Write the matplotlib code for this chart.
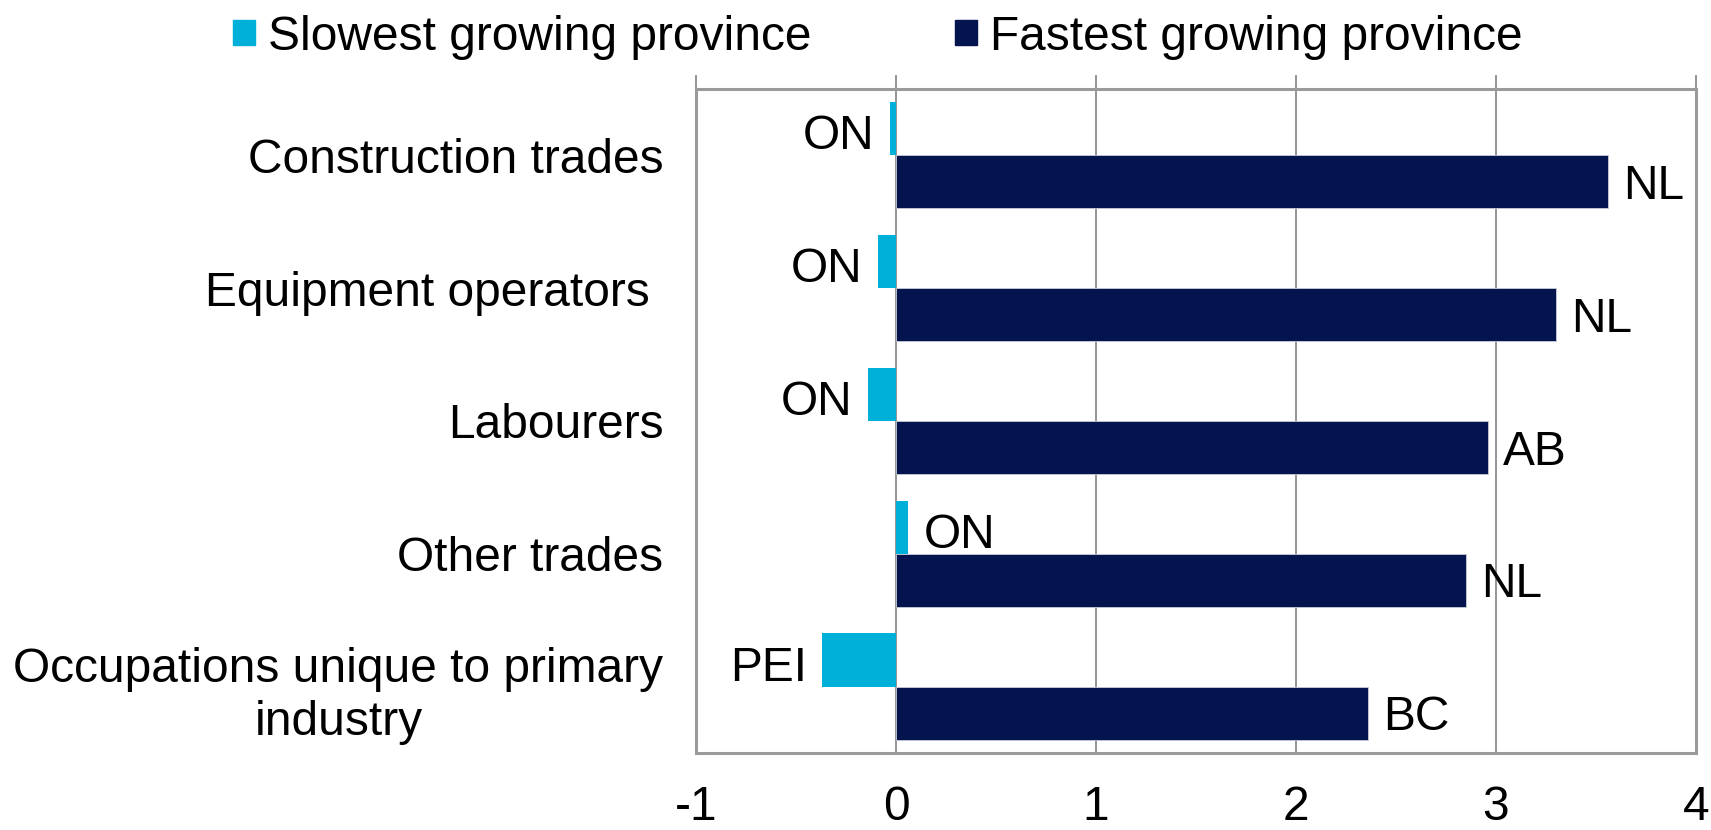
import numpy as np
import matplotlib.pyplot as plt
from matplotlib.patches import Patch

plt.rcParams['font.family'] = ['Liberation Sans', 'DejaVu Sans']

# data
categories = ["Construction trades", "Equipment operators ", "Labourers",
              "Other trades", "Occupations unique to primary\nindustry"]
slowest = [-0.03, -0.09, -0.14, 0.06, -0.37]
slowest_prov = ["ON", "ON", "ON", "ON", "PEI"]
fastest = [3.56, 3.30, 2.96, 2.85, 2.36]
fastest_prov = ["NL", "NL", "AB", "NL", "BC"]
xticks = [-1, 0, 1, 2, 3, 4]

light = '#00b0d8'
dark = '#03144f'
fs = 34.5
cap = 0.716 * fs / 2  # half cap height in points, to centre caps on the bar

fig = plt.figure(figsize=(17.11, 8.3), dpi=100)
ax = fig.add_axes([0.4068, 0.0928, 0.5844, 0.8])

y = np.arange(len(categories))
h = 0.4
ax.barh(y - h / 2, slowest, height=h, color=light, zorder=3)
ax.barh(y + h / 2, fastest, height=h, color=dark, edgecolor='#c8cbd8', linewidth=0.6, zorder=3)

# data labels
for yi, v, p in zip(y, slowest, slowest_prov):
    off = 11 if v >= 0 else -11
    ax.annotate(p, (v, yi - h / 2), xytext=(off, -cap - 2.4), textcoords='offset points',
                ha='left' if v >= 0 else 'right', va='baseline', fontsize=fs)
for yi, v, p in zip(y, fastest, fastest_prov):
    ax.annotate(p, (v, yi + h / 2), xytext=(11, -cap), textcoords='offset points',
                ha='left', va='baseline', fontsize=fs)

ax.set_xlim(-1, 4)
ax.set_ylim(len(categories) - 0.5, -0.5)
ax.set_xticks(xticks)
ax.set_xticklabels([str(t) for t in xticks], fontsize=fs)
ax.set_yticks(y)
ax.set_yticklabels(categories, fontsize=fs, multialignment='center', linespacing=1.25)

ax.grid(axis='x', color='#8c8c8c', linewidth=1.3, zorder=0)
ax.tick_params(axis='x', top=True, bottom=False, direction='out', length=10,
               width=1.3, color='#8c8c8c', pad=13, labelbottom=True, labeltop=False)
ax.tick_params(axis='y', left=False, pad=20)
for s in ax.spines.values():
    s.set_color('#9a9a9a')
    s.set_linewidth(2.2)

handles = [Patch(color=light, label='Slowest growing province'),
           Patch(color=dark, label='Fastest growing province')]
fig.legend(handles=handles, loc='center', bbox_to_anchor=(878 / 1711, 1 - 37 / 830),
           ncol=2, frameon=False, fontsize=fs, handlelength=0.45, handleheight=0.45,
           handletextpad=0.28, columnspacing=3.0, borderaxespad=0)

fig.savefig('out.png', dpi=100)
